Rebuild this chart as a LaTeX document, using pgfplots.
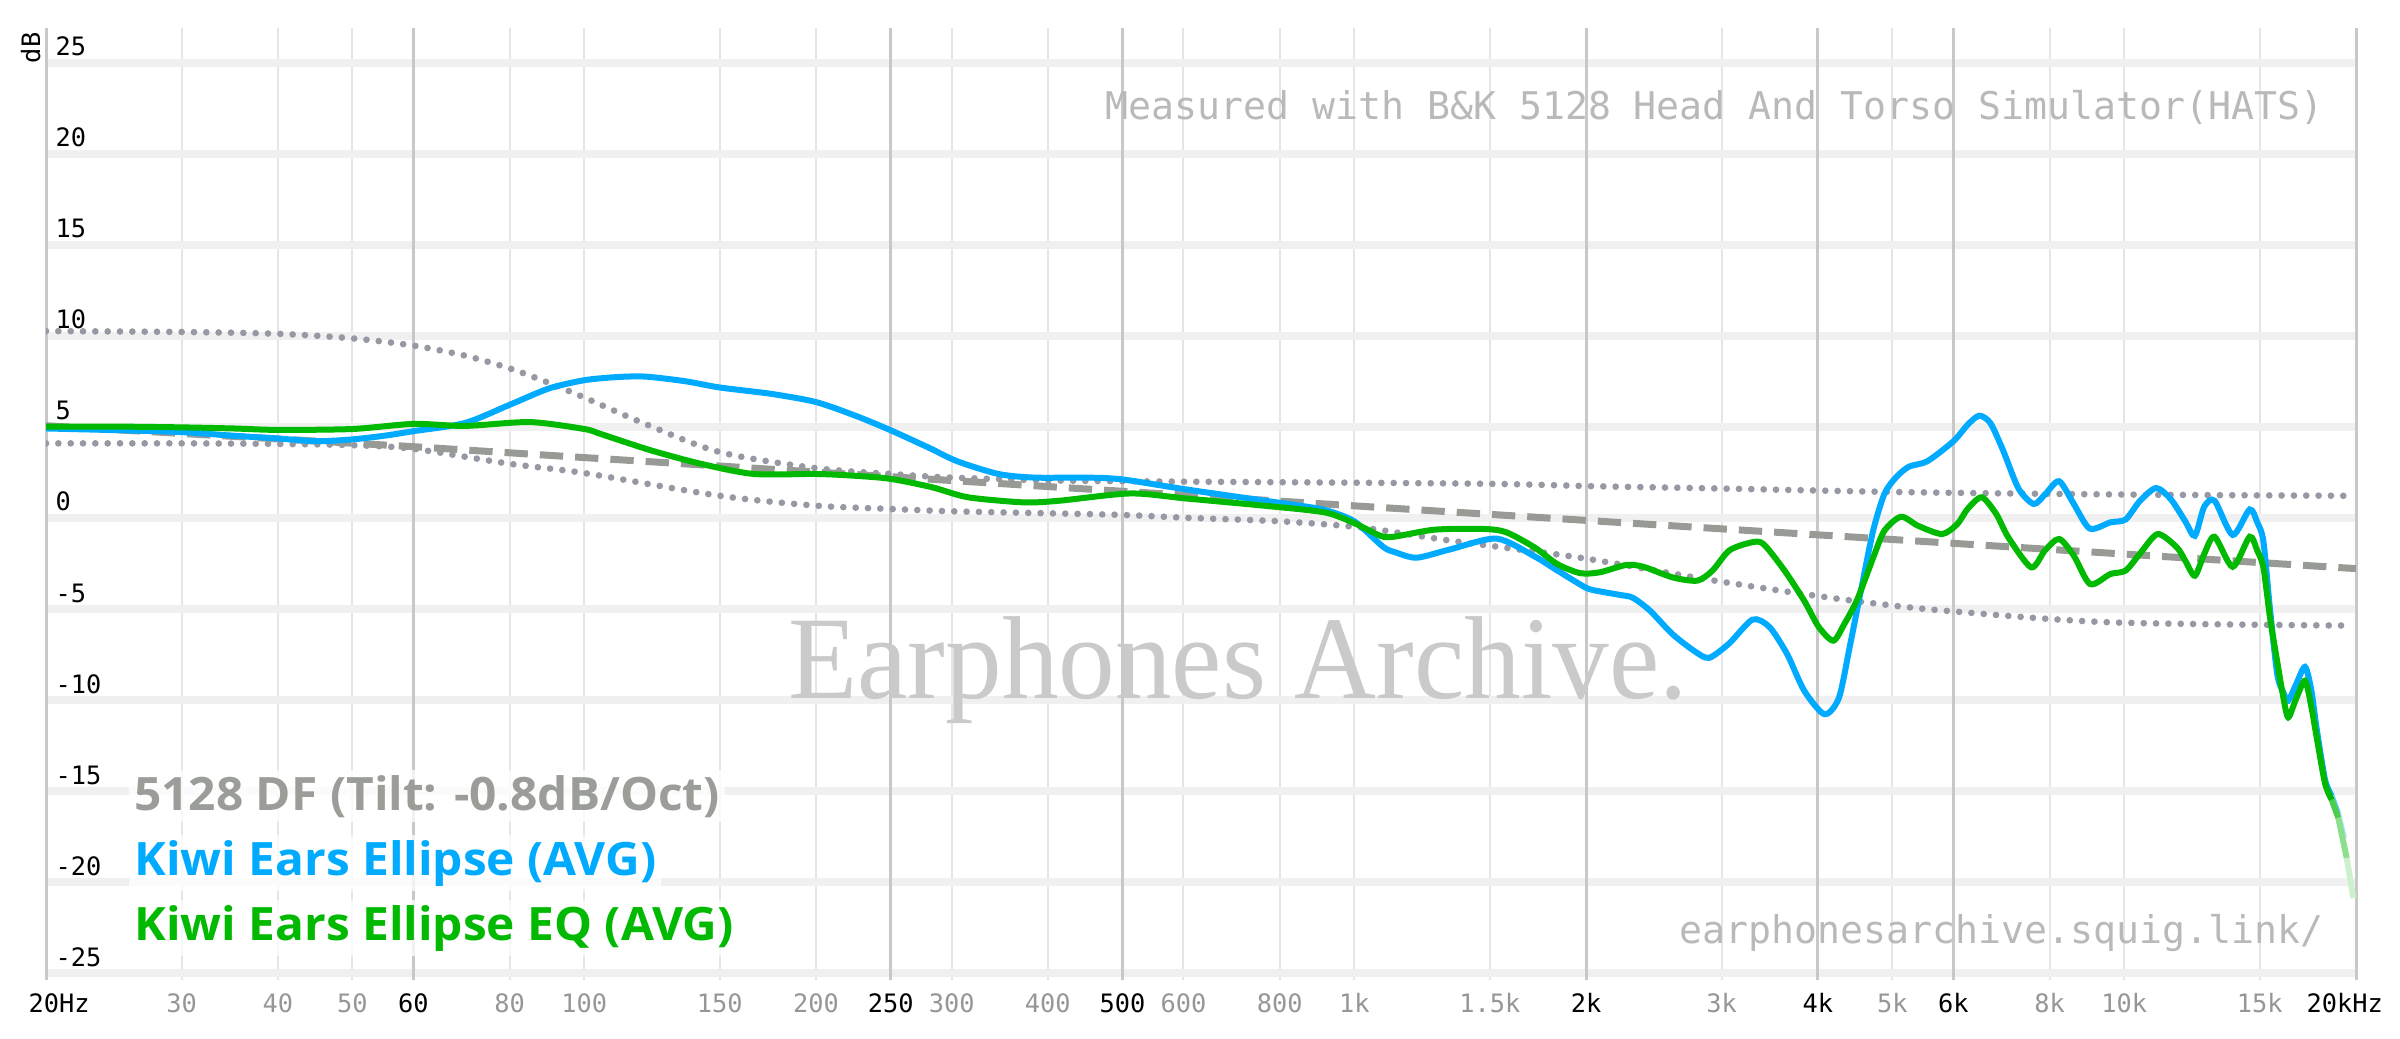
\documentclass[border=0pt]{standalone}
\usepackage{pgfplots}
\pgfplotsset{compat=1.18}
\usepackage{fontspec}
\setmainfont{Open Sans}
\newfontfamily\monofont{DejaVu Sans Mono}
\newfontfamily\legfont[FakeStretch=1.04]{Open Sans}
\newfontfamily\wmfont[FakeStretch=0.96]{Liberation Serif}
\definecolor{blueC}{RGB}{0,170,255}
\definecolor{greenC}{RGB}{0,185,0}
\definecolor{dashC}{RGB}{152,155,149}
\definecolor{dotC}{RGB}{150,153,163}
\definecolor{majgrid}{RGB}{200,200,200}
\definecolor{mingrid}{RGB}{229,229,229}
\definecolor{hgrid}{RGB}{240,240,240}
\definecolor{tickgray}{RGB}{150,150,150}
\definecolor{annot}{RGB}{185,185,185}
\definecolor{wm}{RGB}{202,202,202}
\definecolor{leggray}{RGB}{155,158,152}
\newcommand{\tickfont}{\monofont\fontsize{7.6}{8}\selectfont}
\begin{document}
\begin{tikzpicture}
\path[use as bounding box] (0,0) rectangle (720pt,311.4pt);
\begin{axis}[
  at={(13.8pt,17.4pt)}, anchor=south west, scale only axis,
  width=693pt, height=285.6pt,
  xmode=log, xmin=20, xmax=20000, ymin=-25.4, ymax=26.9,
  axis line style={draw=none},
  major tick length=0pt, tick style={draw=none},
  xtick={30,40,50,80,100,150,200,300,400,600,800,1000,1500,3000,5000,8000,10000,15000},
  xticklabels={30,40,50,80,100,150,200,300,400,600,800,1k,1.5k,3k,5k,8k,10k,15k},
  extra x ticks={20,60,250,500,2000,4000,6000,20000},
  extra x tick labels={\kern7.8pt 20Hz,60,250,500,2k,4k,6k,20kHz\kern6.8pt},
  xticklabel style={font=\tickfont, text=tickgray, anchor=base, yshift=-9.75pt, inner sep=0pt},
  extra x tick style={xticklabel style={text=black}, major grid style={draw=majgrid, line width=0.9pt}},
  xmajorgrids, major grid style={draw=mingrid, line width=0.6pt},
  ytick={-25,-20,-15,-10,-5,0,5,10,15,20,25}, yticklabels={},
  ymajorgrids, y grid style={draw=hgrid, line width=2.4pt},
]
% watermark
\node[anchor=base west, inner sep=0pt, font=\wmfont\fontsize{35.4}{38}\selectfont, text=wm]
  at (axis description cs:0.321,0.2962) {Earphones Archive.};
% y labels
\foreach \v in {-25,-20,-15,-10,-5,0,5,10,15,20,25}{
  \edef\temp{\noexpand\node[anchor=base west, inner sep=0pt, font=\noexpand\tickfont, xshift=2.7pt, yshift=2pt] at (axis cs:20,\v) {\v};}
  \temp
}
% dotted bounds
\addplot[dotC, line width=2.0pt, line cap=round, dash pattern=on 0pt off 3.7pt, smooth, tension=0.5] coordinates {
(20,10.25)(30,10.2)(40,10.1)(50,9.85)(60,9.45)(70,8.9)(80,8.2)(90,7.4)(100,6.6)(120,5.15)(150,3.6)(200,2.72)(250,2.4)(300,2.2)(400,2.05)(500,2.0)(1000,1.92)(1550,1.85)(2085,1.72)(3000,1.6)(5200,1.4)(10000,1.27)(19600,1.2)};
\addplot[dotC, line width=2.0pt, line cap=round, dash pattern=on 0pt off 3.7pt, smooth, tension=0.5] coordinates {
(20,4.08)(30,4.08)(40,4.05)(50,3.98)(60,3.78)(80,2.96)(100,2.45)(150,1.2)(200,0.66)(250,0.48)(300,0.35)(400,0.24)(500,0.15)(600,0.0)(800,-0.2)(1000,-0.5)(1150,-0.85)(1330,-1.26)(1556,-1.63)(2000,-2.25)(2830,-3.35)(3840,-4.2)(4800,-4.74)(6000,-5.15)(9600,-5.75)(19600,-5.93)};
% target
\addplot[dashC, line width=2.1pt, dash pattern=on 7pt off 3.6pt] coordinates {
(20,5.05)(60,3.9)(100,3.3)(250,2.25)(500,1.45)(1000,0.65)(2000,-0.15)(5000,-1.2)(10000,-2.0)(20000,-2.8)};
% blue
\addplot[blueC, line width=1.8pt, smooth, tension=0.45] coordinates {
(20,4.9)(25,4.8)(30,4.7)(35,4.5)(40,4.35)(45,4.2)(50,4.3)(55,4.5)(60,4.75)(70,5.2)(80,6.2)(90,7.1)(100,7.55)(110,7.72)(120,7.75)(135,7.5)(150,7.15)(175,6.8)(200,6.35)(225,5.6)(250,4.8)(280,3.85)(305,3.1)(345,2.4)(385,2.2)(450,2.2)(500,2.1)(605,1.55)(760,0.95)(850,0.66)(920,0.4)(1000,-0.2)(1090,-1.6)(1130,-1.9)(1205,-2.2)(1330,-1.75)(1530,-1.15)(1710,-2.1)(1835,-2.9)(2000,-3.85)(2085,-4.05)(2217,-4.25)(2300,-4.4)(2420,-5.1)(2590,-6.4)(2770,-7.35)(2890,-7.7)(3070,-6.9)(3290,-5.6)(3460,-6.0)(3650,-7.5)(3840,-9.5)(4080,-10.8)(4260,-9.9)(4400,-7.1)(4560,-3.8)(4720,-0.7)(4880,1.3)(5050,2.2)(5250,2.8)(5550,3.1)(6000,4.2)(6260,5.1)(6480,5.6)(6700,5.2)(6960,3.7)(7290,1.6)(7630,0.75)(7900,1.3)(8230,2.0)(8600,0.75)(9020,-0.6)(9590,-0.26)(10040,-0.1)(10470,0.9)(11000,1.63)(11500,1.0)(12000,-0.2)(12350,-1.0)(12700,0.6)(13100,0.93)(13830,-0.95)(14550,0.45)(14900,-0.3)(15160,-1.3)(15460,-5.0)(15800,-8.6)(16090,-9.6)(16330,-10.05)(16700,-9.2)(17170,-8.2)(17500,-9.5)(17780,-11.6)(18230,-14.4)(18600,-15.3)};
\addplot[blueC!60!white, line width=1.8pt] coordinates {(18600,-15.3)(18970,-16.3)};
\addplot[blueC!30!white, line width=1.8pt] coordinates {(18970,-16.3)(19300,-17.6)};
% green
\addplot[greenC, line width=1.8pt, smooth, tension=0.45] coordinates {
(20,5.0)(25,5.0)(30,4.96)(35,4.9)(40,4.82)(50,4.87)(60,5.15)(70,5.04)(85,5.25)(100,4.87)(105,4.6)(122,3.7)(142,2.95)(166,2.4)(200,2.4)(225,2.3)(250,2.13)(283,1.67)(315,1.12)(372,0.84)(414,0.93)(512,1.33)(606,1.05)(762,0.66)(915,0.29)(1000,-0.3)(1082,-1.0)(1125,-1.05)(1272,-0.66)(1470,-0.62)(1575,-0.8)(1714,-1.63)(1835,-2.55)(1966,-3.05)(2085,-3.0)(2255,-2.6)(2375,-2.7)(2590,-3.28)(2790,-3.46)(2920,-2.9)(3070,-1.8)(3280,-1.36)(3400,-1.45)(3620,-2.9)(3840,-4.56)(4010,-6.0)(4190,-6.76)(4330,-5.84)(4500,-4.5)(4720,-2.2)(4880,-0.72)(5130,0.05)(5400,-0.45)(5800,-0.9)(6070,-0.35)(6260,0.48)(6530,1.12)(6820,0.2)(7070,-1.08)(7570,-2.73)(7890,-1.8)(8230,-1.17)(8600,-2.09)(9030,-3.65)(9590,-3.1)(10040,-2.91)(10470,-2.0)(11050,-0.9)(11700,-1.63)(12000,-2.36)(12350,-3.19)(12700,-2.0)(13100,-1.05)(13830,-2.7)(14550,-1.05)(14880,-1.8)(15160,-2.73)(15460,-5.47)(15740,-7.5)(16090,-9.87)(16330,-10.97)(16700,-10.0)(17170,-8.96)(17500,-10.4)(17780,-12.07)(18230,-14.6)(18600,-15.5)};
\addplot[greenC!70!white, line width=1.8pt] coordinates {(18600,-15.5)(18970,-16.5)};
\addplot[greenC!45!white, line width=1.8pt] coordinates {(18970,-16.5)(19450,-18.7)};
\addplot[greenC!20!white, line width=1.8pt] coordinates {(19450,-18.7)(19840,-20.9)};
\end{axis}
% annotations
\node[anchor=base east, inner sep=0pt, font=\monofont\fontsize{11.45}{13}\selectfont, text=annot] at (697.2pt,275.6pt) {Measured with B\&K 5128 Head And Torso Simulator(HATS)};
\node[anchor=base east, inner sep=0pt, font=\monofont\fontsize{11.45}{13}\selectfont, text=annot] at (697.2pt,28.5pt) {earphonesarchive.squig.link/};
\node[rotate=90, anchor=base east, inner sep=0pt, font=\tickfont] at (12pt,301.8pt) {dB};
% legend
\node[anchor=base west, inner sep=1.5pt, fill=white, fill opacity=0.75, text opacity=1, font=\legfont\bfseries\fontsize{13.8}{15}\selectfont, text=leggray] at (38.6pt,68.4pt) {5128 DF (Tilt: -0.8dB/Oct)};
\node[anchor=base west, inner sep=1.5pt, fill=white, fill opacity=0.75, text opacity=1, font=\legfont\bfseries\fontsize{13.8}{15}\selectfont, text=blueC] at (38.6pt,48.9pt) {Kiwi Ears Ellipse (AVG)};
\node[anchor=base west, inner sep=1.5pt, fill=white, fill opacity=0.75, text opacity=1, font=\legfont\bfseries\fontsize{13.8}{15}\selectfont, text=greenC] at (38.6pt,29.4pt) {Kiwi Ears Ellipse EQ (AVG)};
\end{tikzpicture}
\end{document}
